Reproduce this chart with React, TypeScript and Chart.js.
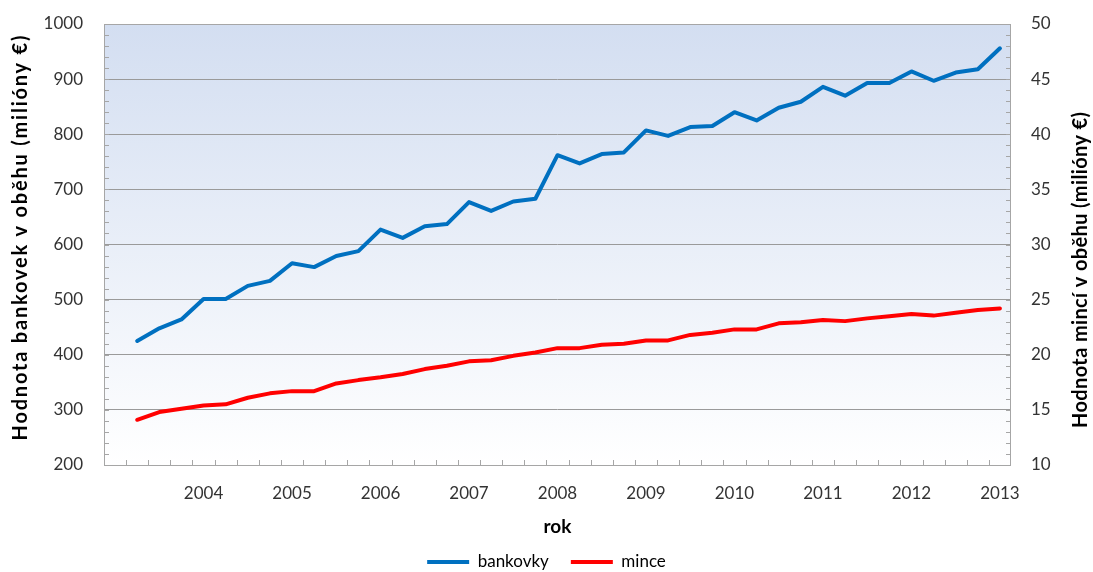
import { useEffect, useRef } from 'react';
import { Chart, registerables } from 'chart.js';

Chart.register(...registerables);

const categories = ['', '', '', '', '2004', '', '', '', '2005', '', '', '', '2006', '', '', '', '2007', '', '', '', '2008', '', '', '', '2009', '', '', '', '2010', '', '', '', '2011', '', '', '', '2012', '', '', '', '2013'];

const bankovky = [null, 425, 448, 464, 501, 501, 525, 534, 566, 559, 579, 588, 627, 612, 633, 637, 677, 661, 678, 683, 762, 747, 764, 767, 807, 797, 813, 815, 840, 825, 848, 859, 886, 870, 893, 893, 914, 897, 912, 918, 956];

const mince = [null, 14.1, 14.8, 15.1, 15.4, 15.5, 16.1, 16.5, 16.7, 16.7, 17.4, 17.7, 17.95, 18.25, 18.7, 19.0, 19.4, 19.5, 19.9, 20.2, 20.6, 20.6, 20.9, 21.0, 21.3, 21.3, 21.8, 22.0, 22.3, 22.3, 22.85, 22.95, 23.15, 23.05, 23.3, 23.5, 23.7, 23.55, 23.8, 24.05, 24.2];

const leftTicks = [200, 300, 400, 500, 600, 700, 800, 900, 1000];
const rightTicks = [10, 15, 20, 25, 30, 35, 40, 45, 50];

const leftTitle = 'Hodnota bankovek v oběhu (milióny €)';
const rightTitle = 'Hodnota mincí v oběhu (milióny €)';
const xTitle = 'rok';

const FONT = 'Lato';
const BLUE = '#0070C0';
const RED = '#FF0000';

export default function App() {
  const ref = useRef<HTMLCanvasElement | null>(null);

  useEffect(() => {
    if (!ref.current) return;

    const framePlugin = {
      id: 'framePlugin',
      afterLayout(chart: any) {
        const lg = chart.legend;
        if (lg) {
          lg.top += 8.5;
          lg.bottom += 8.5;
        }
      },
      beforeDraw(chart: any) {
        const { ctx, chartArea } = chart;
        const g = ctx.createLinearGradient(0, chartArea.top, 0, chartArea.bottom);
        g.addColorStop(0, '#D3DEF1');
        g.addColorStop(1, '#FFFFFF');
        ctx.save();
        ctx.fillStyle = g;
        ctx.fillRect(chartArea.left, chartArea.top, chartArea.right - chartArea.left, chartArea.bottom - chartArea.top);
        ctx.restore();
      },
      afterDraw(chart: any) {
        const { ctx, chartArea } = chart;
        const y = chart.scales.y;
        const x = chart.scales.x;
        ctx.save();
        ctx.strokeStyle = '#A6A6A6';
        ctx.lineWidth = 1;
        ctx.strokeRect(chartArea.left + 0.5, chartArea.top + 0.5, chartArea.right - chartArea.left - 1, chartArea.bottom - chartArea.top);
        ctx.beginPath();
        for (let v = leftTicks[0]; v <= leftTicks[leftTicks.length - 1]; v += 20) {
          const py = Math.round(y.getPixelForValue(v)) + 0.5;
          ctx.moveTo(chartArea.left, py);
          ctx.lineTo(chartArea.left + 5, py);
          ctx.moveTo(chartArea.right - 5, py);
          ctx.lineTo(chartArea.right, py);
        }
        for (let i = 1; i < categories.length; i++) {
          const px = Math.round((x.getPixelForValue(i - 1) + x.getPixelForValue(i)) / 2) + 0.5;
          ctx.moveTo(px, chartArea.bottom);
          ctx.lineTo(px, chartArea.bottom - 5);
        }
        ctx.stroke();

        const drawTitle = (text: string, cx: number, cy: number, len: number) => {
          ctx.save();
          ctx.font = `bold 20px ${FONT}`;
          const w = ctx.measureText(text).width;
          const sp = Math.max(0, (len - w) / (text.length - 1));
          (ctx as any).letterSpacing = `${sp}px`;
          const total = w + sp * (text.length - 1);
          ctx.translate(cx, cy + total / 2);
          ctx.rotate(-Math.PI / 2);
          ctx.textAlign = 'left';
          ctx.textBaseline = 'middle';
          ctx.fillStyle = '#000000';
          ctx.fillText(text, 0, 0);
          ctx.restore();
        };
        drawTitle(leftTitle, 21, 238, 405);
        drawTitle(rightTitle, 1081, 270, 316);
        ctx.restore();
      },
    };

    const noPad = (s: any, w: number) => {
      s.width = w;
      s.paddingTop = 0;
      s.paddingBottom = 0;
    };

    const chart = new Chart(ref.current, {
      type: 'line',
      data: {
        labels: categories,
        datasets: [
          {
            label: 'bankovky',
            data: bankovky,
            borderColor: BLUE,
            backgroundColor: BLUE,
            borderWidth: 4,
            pointRadius: 0,
            tension: 0,
            borderJoinStyle: 'round',
            borderCapStyle: 'round',
            yAxisID: 'y',
          },
          {
            label: 'mince',
            data: mince,
            borderColor: RED,
            backgroundColor: RED,
            borderWidth: 4,
            pointRadius: 0,
            tension: 0,
            borderJoinStyle: 'round',
            borderCapStyle: 'round',
            yAxisID: 'y1',
          },
        ],
      },
      options: {
        responsive: false,
        animation: false,
        devicePixelRatio: 1,
        layout: { padding: { top: 24, left: 0, right: 0, bottom: 0 } },
        plugins: {
          tooltip: { enabled: false },
          legend: {
            position: 'bottom',
            labels: {
              boxWidth: 42,
              boxHeight: 4,
              padding: 22,
              color: '#333333',
              font: { family: FONT, size: 17 },
              generateLabels: (c: any) =>
                c.data.datasets.map((d: any, i: number) => ({
                  text: d.label,
                  fillStyle: d.borderColor,
                  strokeStyle: d.borderColor,
                  lineWidth: 0,
                  hidden: false,
                  datasetIndex: i,
                })),
            },
          },
        },
        scales: {
          x: {
            type: 'category',
            offset: true,
            grid: { display: false, drawTicks: false },
            border: { display: false },
            ticks: {
              autoSkip: false,
              maxRotation: 0,
              padding: 18,
              color: '#333333',
              font: { family: FONT, size: 17 },
            },
            title: {
              display: true,
              text: xTitle,
              color: '#000000',
              font: { family: FONT, size: 19, weight: 'bold' },
              padding: { top: 0, bottom: -15 },
            },
            afterFit: (s: any) => {
              const lh = s.chart.legend ? s.chart.legend.height : 0;
              s.height = s.chart.height - 465 - lh;
            },
          },
          y: {
            position: 'left',
            min: leftTicks[0],
            max: leftTicks[leftTicks.length - 1],
            afterBuildTicks: (s: any) => {
              s.ticks = leftTicks.map((v) => ({ value: v }));
            },
            grid: { color: '#9A9A9A', drawTicks: false, lineWidth: 1 },
            border: { display: false },
            ticks: {
              padding: 21,
              color: '#333333',
              font: { family: FONT, size: 17 },
              callback: (v: any) => String(v),
            },
            afterFit: (s: any) => noPad(s, 104),
          },
          y1: {
            position: 'right',
            min: rightTicks[0],
            max: rightTicks[rightTicks.length - 1],
            afterBuildTicks: (s: any) => {
              s.ticks = rightTicks.map((v) => ({ value: v }));
            },
            grid: { display: false, drawOnChartArea: false, drawTicks: false },
            border: { display: false },
            ticks: {
              padding: 20,
              color: '#333333',
              font: { family: FONT, size: 17 },
              callback: (v: any) => String(v),
            },
            afterFit: (s: any) => noPad(s, 82),
          },
        },
      },
      plugins: [framePlugin],
    } as any);

    return () => chart.destroy();
  }, []);

  return (
    <div style={{ position: 'absolute', left: 0, top: 0, width: 1093, height: 572, background: '#FFFFFF' }}>
      <canvas ref={ref} width={1093} height={572} style={{ display: 'block', width: 1093, height: 572 }} />
    </div>
  );
}
